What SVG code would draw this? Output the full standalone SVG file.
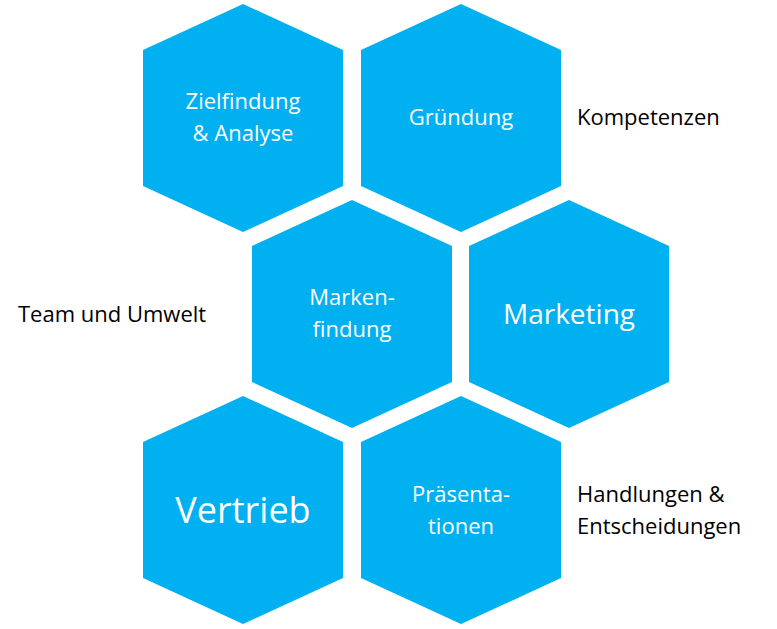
<svg xmlns="http://www.w3.org/2000/svg" width="777" height="629" viewBox="0 0 777 629">
<defs><style>
.h{fill:#00B0F0}
.t{fill:#fff;font-family:"Open Sans","Liberation Sans",sans-serif;text-anchor:middle}
.b{fill:#000;font-family:"Open Sans","Liberation Sans",sans-serif;font-size:22px}
</style>
<polygon id="hex" points="0,-114 100,-68 100,68 0,114 -100,68 -100,-68"/></defs>
<rect width="777" height="629" fill="#fff"/>
<g id="n1"><use href="#hex" class="h" x="243" y="118"/><text class="t" font-size="22" x="243" y="109">Zielfindung</text><text class="t" font-size="22" x="243" y="141">&amp; Analyse</text></g>
<g id="n2"><use href="#hex" class="h" x="461" y="118"/><text class="t" font-size="22" x="461" y="125">Gründung</text></g>
<g id="n3"><use href="#hex" class="h" x="352" y="314"/><text class="t" font-size="22" x="352" y="305">Marken-</text><text class="t" font-size="22" x="352" y="337">findung</text></g>
<g id="n4"><use href="#hex" class="h" x="569" y="314"/><text class="t" font-size="28" x="569" y="324">Marketing</text></g>
<g id="n5"><use href="#hex" class="h" x="243" y="510"/><text class="t" font-size="36" x="243" y="523">Vertrieb</text></g>
<g id="n6"><use href="#hex" class="h" x="461" y="510"/><text class="t" font-size="22" x="461" y="502">Präsenta-</text><text class="t" font-size="22" x="461" y="534">tionen</text></g>
<g id="labels">
<text class="b" x="577" y="125">Kompetenzen</text>
<text class="b" x="18" y="322">Team und Umwelt</text>
<text class="b" x="577" y="502">Handlungen &amp;</text>
<text class="b" x="577" y="534">Entscheidungen</text>
</g>
<g id="connectors"/>
</svg>
